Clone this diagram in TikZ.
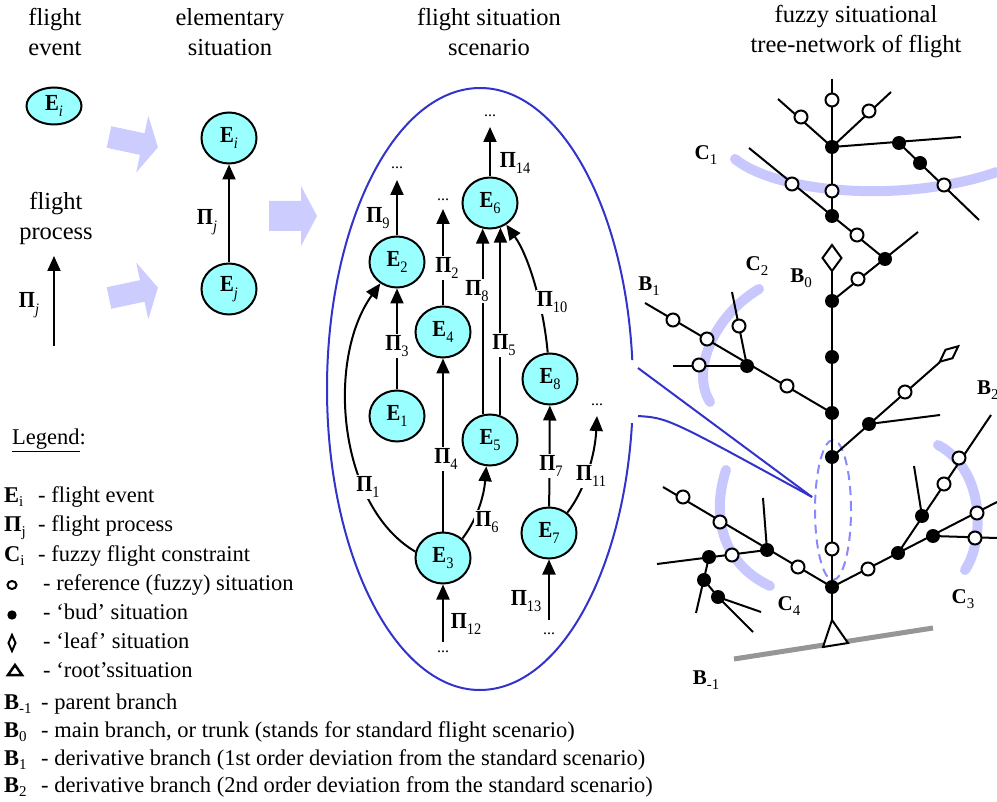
\documentclass[tikz,border=0pt]{standalone}
\usepackage{fontspec}
\setmainfont{Liberation Serif}
\newfontfamily\nfont{Liberation Serif}[FakeStretch=0.9]
\usetikzlibrary{arrows.meta,shapes.geometric,calc}
\definecolor{nodecyan}{RGB}{153,255,255}
\definecolor{paleblue}{RGB}{204,204,255}
\definecolor{cblue}{RGB}{200,200,255}
\definecolor{zblue}{RGB}{51,51,204}
\definecolor{dblue}{RGB}{136,136,255}
\definecolor{groundgray}{RGB}{150,150,150}
\newcommand\sbs[1]{\raisebox{-0.28em}{\fontsize{16}{16}\selectfont #1}}
\newcommand\sbl[1]{\raisebox{-0.22em}{\fontsize{15}{15}\selectfont #1}}
\newcommand\Ev[1]{\textbf{E}\sbs{#1}}
\newcommand\Pv[1]{\textbf{Π}\sbs{#1}}
\tikzset{
  ev/.style={ellipse, draw, line width=2pt, fill=nodecyan, minimum width=55pt, minimum height=51pt, inner sep=0pt, font=\nfont\fontsize{23}{23}\selectfont},
  evs/.style={ev, minimum height=37pt},
  arr/.style={line width=2pt, -{Triangle[length=15pt,width=13pt]}},
  lbl/.style={fill=white, inner sep=1pt, font=\nfont\fontsize{23}{23}\selectfont},
  dotsn/.style={font=\fontsize{16}{16}\selectfont, inner sep=0pt},
  ttl/.style={align=center, font=\fontsize{24.5}{30}\selectfont},
  leg/.style={anchor=base west, inner sep=0pt, font=\fontsize{22.5}{22.5}\selectfont},
  tlab/.style={inner sep=0pt, font=\fontsize{21}{21}\selectfont},
  br/.style={line width=2pt},
  wc/.style={draw, line width=2pt, fill=white},
  cons/.style={line width=10pt, cblue, line cap=round},
  blk/.style={fill=paleblue}
}
\begin{document}
\begin{tikzpicture}[x=1pt,y=1pt]
\useasboundingbox (0,0) rectangle (997,-802);
\fill[white] (0,0) rectangle (997,-802);

% titles
\node[ttl] (t1) at (55,-32) {flight\\event};
\node[ttl] (t2) at (230,-32) {elementary\\situation};
\node[ttl] (t3) at (489,-32) {flight situation\\scenario};
\node[ttl] (t4) at (856,-32) {fuzzy situational\\tree-network of flight};
\node[ttl] (t5) at (56,-218) {flight\\process};

% block arrows
\fill[blk, shift={(109,-137)}, rotate=-12] (0,-11) -- (34,-11) -- (34,-29) -- (50,0) -- (34,29) -- (34,11) -- (0,11) -- cycle;
\fill[blk, shift={(109,-298)}, rotate=12] (0,-11) -- (34,-11) -- (34,-29) -- (50,0) -- (34,29) -- (34,11) -- (0,11) -- cycle;
\fill[blk, shift={(269,-216)}] (0,-15) -- (32,-15) -- (32,-30) -- (48,0) -- (32,30) -- (32,15) -- (0,15) -- cycle;

% flight event / process
\node[evs] (Ea) at (54,-106) {\textbf{E}\sbs{\textit{i}}};
\coordinate (pb) at (54,-346);
\coordinate (pt) at (54,-256);
\draw[arr] (pb) -- (pt);
\node[lbl] (pj) at (29,-305) {\textbf{Π}\sbs{\textit{j}}};

% elementary situation
\node[ev] (Eb) at (229,-138) {\textbf{E}\sbs{\textit{i}}};
\node[ev] (Ec) at (229,-289) {\textbf{E}\sbs{\textit{j}}};
\draw[arr] (Ec) -- (Eb);
\node[lbl] (pj2) at (207,-222) {\textbf{Π}\sbs{\textit{j}}};

% scenario ellipse and zoom lines
\draw[zblue, line width=2pt] (480,-389) ++(5.5:153 and 301) arc[start angle=5.5, end angle=353.5, x radius=153, y radius=301];
\coordinate (z1) at (638,-368);
\coordinate (z2) at (638,-416);
\coordinate (zt) at (812,-497);
\draw[zblue, line width=2pt] (z1) -- (zt);
\draw[zblue, line width=2pt] (z2) .. controls (668,-418) .. (zt);

% scenario nodes
\node[ev] (E6) at (490,-203) {\Ev{6}};
\node[ev] (E2) at (397,-262) {\Ev{2}};
\node[ev] (E4) at (443,-332) {\Ev{4}};
\node[ev] (E8) at (550,-379) {\Ev{8}};
\node[ev] (E1) at (397,-416) {\Ev{1}};
\node[ev] (E5) at (490,-440) {\Ev{5}};
\node[ev] (E3) at (443,-558) {\Ev{3}};
\node[ev] (E7) at (549,-533) {\Ev{7}};

% open ends
\node[dotsn] (d9) at (397,-168) {...};
\node[dotsn] (d14) at (490,-116) {...};
\node[dotsn] (d2) at (443,-200) {...};
\node[dotsn] (d11) at (597,-405) {...};
\node[dotsn] (d12) at (443,-652) {...};
\node[dotsn] (d13) at (549,-634) {...};
\coordinate (c9) at (397,-180);
\coordinate (c14) at (490,-127);
\coordinate (c2) at (443,-209);
\coordinate (c11) at (597,-416);
\coordinate (c12) at (443,-642);
\coordinate (c13) at (549,-620);

% scenario edges
\draw[arr] (E2) -- (c9);
\draw[arr] (E6) -- (c14);
\draw[arr] (E4) -- (c2);
\draw[arr] (E5.106) -- (E6.254);
\draw[arr] (E5.67) -- (E6.293);
\draw[arr] (E1) -- (E2);
\draw[arr] (E3) -- (E4);
\draw[arr] (E7) -- (E8);
\draw[arr] (c12) -- (E3);
\draw[arr] (c13) -- (E7);
\draw[arr] (E3.167) .. controls (339,-507) and (325,-361) .. (E2.232);
\draw[arr] (E8.95) .. controls (544,-310) and (530,-258) .. (E6.307);
\draw[arr] (E3.45) .. controls (478,-518) and (484,-495) .. (E5.262);
\draw[arr] (E7.48) .. controls (585,-490) and (595,-455) .. (c11);

% scenario labels
\node[lbl] (p9) at (378,-218) {\Pv{9}};
\node[lbl] (p14) at (515,-163) {\Pv{14}};
\node[lbl] (p2) at (447,-268) {\Pv{2}};
\node[lbl] (p8) at (477,-291) {\Pv{8}};
\node[lbl] (p5) at (504,-345) {\Pv{5}};
\node[lbl] (p10) at (552,-302) {\Pv{10}};
\node[lbl] (p3) at (397,-346) {\Pv{3}};
\node[lbl] (p4) at (446,-459) {\Pv{4}};
\node[lbl] (p1) at (368,-487) {\Pv{1}};
\node[lbl] (p6) at (487,-522) {\Pv{6}};
\node[lbl] (p7) at (551,-466) {\Pv{7}};
\node[lbl] (p11) at (591,-476) {\Pv{11}};
\node[lbl] (p12) at (466,-624) {\Pv{12}};
\node[lbl] (p13) at (526,-601) {\Pv{13}};

% ---------------- tree ----------------
\draw[cons] (735,-159) .. controls (775,-192) and (900,-205) .. (997,-172);
\draw[cons] (759,-289) .. controls (715,-315) and (690,-370) .. (710,-402);
\draw[cons] (938,-445) .. controls (985,-470) and (985,-540) .. (965,-570);
\draw[cons] (726,-470) .. controls (710,-520) and (725,-565) .. (770,-586);
\draw[dblue, line width=2pt, dash pattern=on 9pt off 6pt] (833,-510) ellipse [x radius=18, y radius=70];
\draw[line width=5pt, groundgray] (734,-659) -- (933,-628);

\draw[br] (832,-79) -- (832,-216);
\draw[br] (832,-147) -- (778,-99);
\draw[br] (832,-147) -- (891,-92);
\draw[br] (832,-147) -- (961,-137);
\draw[br] (899,-143) -- (979,-220);
\draw[br] (749,-148) -- (885,-259);
\draw[br] (832,-301) -- (918,-232);
\draw[br] (832,-271) -- (832,-620);
\draw[br] (645,-303) -- (832,-413);
\draw[br] (747,-366) -- (732,-292);
\draw[br] (747,-366) -- (673,-366);
\draw[br] (832,-457) -- (940,-362);
\draw[br] (869,-424) -- (940,-415);
\draw[br] (832,-587) -- (997,-502);
\draw[br] (898,-553) -- (991,-415);
\draw[br] (922,-516) -- (914,-466);
\draw[br] (933,-536) -- (997,-538);
\draw[br] (832,-587) -- (663,-487);
\draw[br] (767,-550) -- (763,-498);
\draw[br] (767,-550) -- (657,-564);
\draw[br] (709,-557) -- (696,-613);
\draw[br] (704,-580) -- (718,-597);
\draw[br] (718,-597) -- (761,-612);
\draw[br] (718,-597) -- (753,-632);

% reference situations (open)
\foreach \p in {(832,-100),(801,-117),(869,-111),(944,-185),(832,-191),(792,-184),(857,-235),(858,-279),
  (673,-320),(707,-339),(787,-386),(739,-326),(699,-365),(905,-392),(832,-549),(868,-569),(977,-513),
  (944,-484),(959,-458),(975,-538),(798,-567),(720,-522),(683,-497),(732,-555)}
  \draw[wc] \p circle (6.5);
% bud situations
\foreach \p in {(832,-147),(899,-143),(920,-163),(832,-216),(885,-259),(832,-301),(832,-357),(832,-413),
  (832,-457),(747,-366),(869,-424),(832,-587),(898,-553),(922,-516),(933,-536),(767,-550),(709,-557),
  (704,-580),(718,-597)}
  \fill \p circle (7);
% leaf situations
\draw[br, fill=white] (832,-245) -- (841.5,-258) -- (832,-271) -- (822.5,-258) -- cycle;
\draw[br, fill=white, shift={(949,-354)}, rotate=40] (-12,0) -- (0,5.5) -- (12,0) -- (0,-5.5) -- cycle;
% root
\draw[br, fill=white, line join=miter] (832,-620) -- (848,-643) -- (823,-647) -- cycle;

% tree labels
\node[tlab] (lC1) at (706,-155) {\textbf{C}\sbl{1}};
\node[tlab] (lC2) at (757,-266) {\textbf{C}\sbl{2}};
\node[tlab] (lB0) at (801,-278) {\textbf{B}\sbl{0}};
\node[tlab] (lB1) at (649,-286) {\textbf{B}\sbl{1}};
\node[tlab, anchor=west] (lB2) at (977,-390) {\textbf{B}\sbl{2}};
\node[tlab] (lC3) at (963,-599) {\textbf{C}\sbl{3}};
\node[tlab] (lC4) at (789,-606) {\textbf{C}\sbl{4}};
\node[tlab] (lBm) at (706,-680) {\textbf{B}\sbl{-1}};

% legend
\node[leg] (lg) at (12,-445) {\underline{Legend}:};
\node[leg] (k1) at (4,-502) {\textbf{E}\sbl{i}};
\node[leg] (v1) at (38,-502) {- flight event};
\node[leg] (k2) at (4,-532) {\textbf{Π}\sbl{j}};
\node[leg] (v2) at (38,-532) {- flight process};
\node[leg] (k3) at (4,-561) {\textbf{C}\sbl{i}};
\node[leg] (v3) at (38,-561) {- fuzzy flight constraint};
\draw[line width=2pt] (12,-585) ellipse [x radius=4.5, y radius=4];
\node[leg] (v4) at (43,-590) {- reference (fuzzy) situation};
\fill (12,-615) circle (4.7);
\node[leg] (v5) at (43,-619) {- ‘bud’ situation};
\draw[line width=2pt] (12,-635) -- (15.5,-643) -- (12,-651) -- (8.5,-643) -- cycle;
\node[leg] (v6) at (43,-648) {- ‘leaf’ situation};
\draw[line width=2.5pt, line join=miter] (15,-665) -- (22,-675) -- (8,-675) -- cycle;
\node[leg] (v7) at (43,-677) {- ‘root’ssituation};
\node[leg] (k8) at (4,-709) {\textbf{B}\sbl{-1}};
\node[leg] (v8) at (41,-709) {- parent branch};
\node[leg] (k9) at (4,-737) {\textbf{B}\sbl{0}};
\node[leg] (v9) at (41,-737) {- main branch, or trunk (stands for standard flight scenario)};
\node[leg] (k10) at (4,-765) {\textbf{B}\sbl{1}};
\node[leg] (v10) at (41,-765) {- derivative branch (1st order deviation from the standard scenario)};
\node[leg] (k11) at (4,-792) {\textbf{B}\sbl{2}};
\node[leg] (v11) at (41,-792) {- derivative branch (2nd order deviation from the standard scenario)};
\end{tikzpicture}
\end{document}
